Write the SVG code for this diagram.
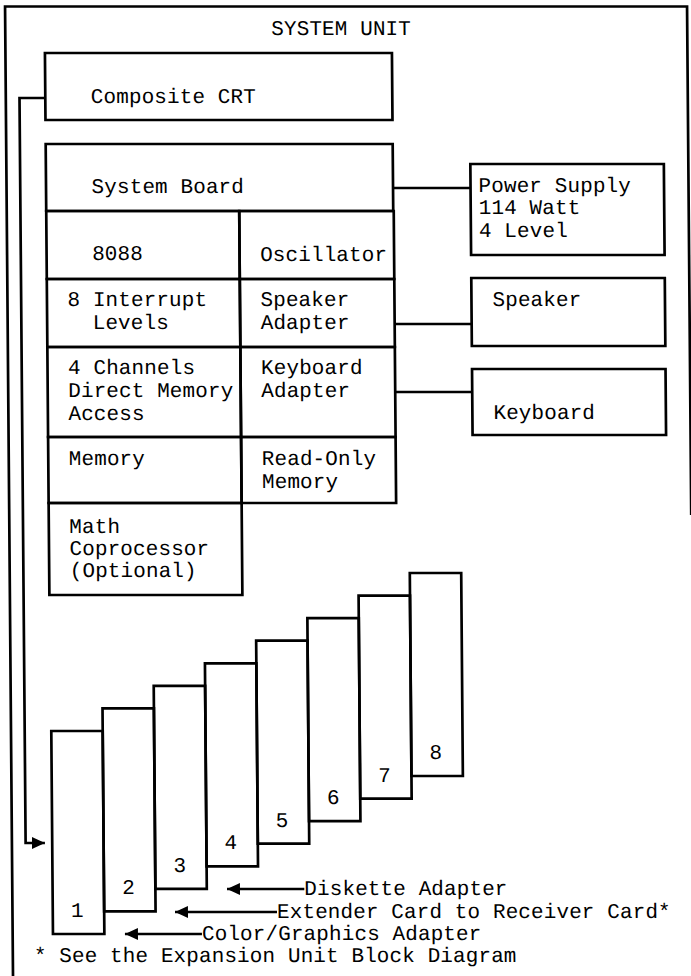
<svg xmlns="http://www.w3.org/2000/svg" width="691" height="976" viewBox="0 0 691 976">
<style>
.b{fill:none;stroke:#000;stroke-width:2.7}
.l{fill:none;stroke:#000;stroke-width:2.7}
text{font-family:"Liberation Mono","DejaVu Sans Mono",monospace;font-size:21px;fill:#000;letter-spacing:0.1px}
.n{text-anchor:middle}
</style>
<defs>
<marker id="ah" viewBox="0 -6 13 12" refX="13" refY="0" markerWidth="13" markerHeight="12" markerUnits="userSpaceOnUse" orient="auto">
<path d="M0,-6 L13,0 L0,6 z" fill="#000"/>
</marker>
</defs>
<rect width="691" height="976" fill="#fff"/>
<g transform="skewX(0.47)">
<g id="system-unit">
<path class="b" d="M5,976 L5,6.5 L687,6.5 L687,515"/>
<text x="271" y="35">SYSTEM UNIT</text>
</g>
<g id="composite-crt">
<rect class="b" x="44.5" y="53" width="347" height="67"/>
<text x="90" y="103">Composite CRT</text>
</g>
<g id="system-board">
<path class="b" d="M44.5,144 H391.5 V211 H44.5 Z"/>
<text x="90" y="193">System Board</text>
</g>
<g id="cpu-8088">
<rect class="b" x="44.5" y="211" width="193" height="68"/>
<text x="90" y="260">8088</text>
</g>
<g id="oscillator">
<rect class="b" x="237.5" y="211" width="154.5" height="68"/>
<text x="258" y="261">Oscillator</text>
</g>
<g id="interrupt-levels">
<rect class="b" x="44.5" y="279" width="193" height="68"/>
<text x="65" y="306">8 Interrupt</text>
<text x="90" y="329">Levels</text>
</g>
<g id="speaker-adapter">
<rect class="b" x="237.5" y="279" width="154.5" height="68"/>
<text x="258" y="306">Speaker</text>
<text x="258" y="329">Adapter</text>
</g>
<g id="dma">
<rect class="b" x="44.5" y="347" width="193" height="90"/>
<text x="65" y="374">4 Channels</text>
<text x="65" y="397">Direct Memory</text>
<text x="65" y="420">Access</text>
</g>
<g id="keyboard-adapter">
<rect class="b" x="237.5" y="347" width="154.5" height="90"/>
<text x="258" y="374">Keyboard</text>
<text x="258" y="397">Adapter</text>
</g>
<g id="memory">
<rect class="b" x="44.5" y="437" width="193" height="66"/>
<text x="65" y="465">Memory</text>
</g>
<g id="rom">
<rect class="b" x="237.5" y="437" width="154.5" height="66"/>
<text x="258" y="465">Read-Only</text>
<text x="258" y="488">Memory</text>
</g>
<g id="math-coprocessor">
<rect class="b" x="44.5" y="503" width="193" height="92"/>
<text x="65" y="533">Math</text>
<text x="65" y="555">Coprocessor</text>
<text x="65" y="577">(Optional)</text>
</g>
<g id="power-supply">
<rect class="b" x="469" y="164" width="193.5" height="91"/>
<text x="477" y="192">Power Supply</text>
<text x="477" y="214">114 Watt</text>
<text x="477" y="237">4 Level</text>
</g>
<g id="speaker">
<rect class="b" x="469" y="278" width="193.5" height="68"/>
<text x="490" y="306">Speaker</text>
</g>
<g id="keyboard">
<rect class="b" x="469" y="369" width="193.5" height="66"/>
<text x="490" y="419">Keyboard</text>
</g>
<g id="slot-1"><rect class="b" x="45.3" y="731" width="51.4" height="203"/><text class="n" x="69.8" y="917">1</text></g>
<g id="slot-2"><rect class="b" x="96.7" y="708.4" width="51.4" height="203"/><text class="n" x="121.2" y="894.4">2</text></g>
<g id="slot-3"><rect class="b" x="148.1" y="685.9" width="51.4" height="203"/><text class="n" x="172.6" y="871.9">3</text></g>
<g id="slot-4"><rect class="b" x="199.5" y="663.3" width="51.4" height="203"/><text class="n" x="224" y="849.3">4</text></g>
<g id="slot-5"><rect class="b" x="250.9" y="640.7" width="51.4" height="203"/><text class="n" x="275.4" y="826.7">5</text></g>
<g id="slot-6"><rect class="b" x="302.3" y="618.1" width="51.4" height="203"/><text class="n" x="326.8" y="804.1">6</text></g>
<g id="slot-7"><rect class="b" x="353.7" y="595.6" width="51.4" height="203"/><text class="n" x="378.2" y="781.6">7</text></g>
<g id="slot-8"><rect class="b" x="405.1" y="573" width="51.4" height="203"/><text class="n" x="429.6" y="759">8</text></g>
<g id="connectors">
<path class="l" d="M44.5,98 H18.7 V843 H38" marker-end="url(#ah)"/>
<line class="l" x1="391.5" y1="188" x2="469" y2="188"/>
<line class="l" x1="392" y1="324" x2="469" y2="324"/>
<line class="l" x1="392" y1="392" x2="469" y2="392"/>
<line class="l" x1="297" y1="889" x2="219.7" y2="889" marker-end="url(#ah)"/>
<line class="l" x1="269.5" y1="912" x2="167.5" y2="912" marker-end="url(#ah)"/>
<line class="l" x1="194.3" y1="934" x2="117.3" y2="934" marker-end="url(#ah)"/>
</g>
<g id="labels">
<text x="297" y="895">Diskette Adapter</text>
<text x="269.5" y="918">Extender Card to Receiver Card*</text>
<text x="194.3" y="940">Color/Graphics Adapter</text>
<text x="26" y="962">* See the Expansion Unit Block Diagram</text>
</g>
</g>
</svg>
